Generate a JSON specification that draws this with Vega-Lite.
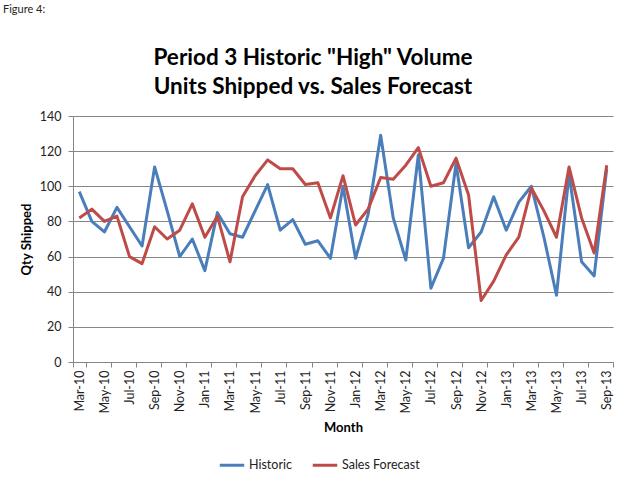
{
  "$schema": "https://vega.github.io/schema/vega-lite/v6.json",
  "padding": {"left": 3, "top": 3, "right": 18, "bottom": 18},
  "background": "white",
  "title": {"text": "Figure 4:", "anchor": "start", "frame": "group", "dx": -70, "fontSize": 11, "fontWeight": "normal", "font": "Lato", "color": "#222", "offset": 32},
  "vconcat": [
    {
      "width": 540,
      "height": 246,
      "title": {"text": ["Period 3 Historic \"High\" Volume", "Units Shipped vs. Sales Forecast"], "anchor": "middle", "frame": "group", "dx": -30, "fontSize": 22.5, "font": "Lato", "fontWeight": "bold", "lineHeight": 29, "offset": 12, "color": "#000"},
      "data": {"values": [
        {"month": "Mar-10", "Historic": 97, "Sales Forecast": 82},
        {"month": "Apr-10", "Historic": 80, "Sales Forecast": 87},
        {"month": "May-10", "Historic": 74, "Sales Forecast": 80},
        {"month": "Jun-10", "Historic": 88, "Sales Forecast": 83},
        {"month": "Jul-10", "Historic": 77, "Sales Forecast": 60},
        {"month": "Aug-10", "Historic": 66, "Sales Forecast": 56},
        {"month": "Sep-10", "Historic": 111, "Sales Forecast": 77},
        {"month": "Oct-10", "Historic": 86, "Sales Forecast": 70},
        {"month": "Nov-10", "Historic": 60, "Sales Forecast": 75},
        {"month": "Dec-10", "Historic": 70, "Sales Forecast": 90},
        {"month": "Jan-11", "Historic": 52, "Sales Forecast": 71},
        {"month": "Feb-11", "Historic": 85, "Sales Forecast": 83},
        {"month": "Mar-11", "Historic": 73, "Sales Forecast": 57},
        {"month": "Apr-11", "Historic": 71, "Sales Forecast": 94},
        {"month": "May-11", "Historic": 86, "Sales Forecast": 106},
        {"month": "Jun-11", "Historic": 101, "Sales Forecast": 115},
        {"month": "Jul-11", "Historic": 75, "Sales Forecast": 110},
        {"month": "Aug-11", "Historic": 81, "Sales Forecast": 110},
        {"month": "Sep-11", "Historic": 67, "Sales Forecast": 101},
        {"month": "Oct-11", "Historic": 69, "Sales Forecast": 102},
        {"month": "Nov-11", "Historic": 59, "Sales Forecast": 82},
        {"month": "Dec-11", "Historic": 100, "Sales Forecast": 106},
        {"month": "Jan-12", "Historic": 59, "Sales Forecast": 78},
        {"month": "Feb-12", "Historic": 84, "Sales Forecast": 87},
        {"month": "Mar-12", "Historic": 129, "Sales Forecast": 105},
        {"month": "Apr-12", "Historic": 82, "Sales Forecast": 104},
        {"month": "May-12", "Historic": 58, "Sales Forecast": 112},
        {"month": "Jun-12", "Historic": 118, "Sales Forecast": 122},
        {"month": "Jul-12", "Historic": 42, "Sales Forecast": 100},
        {"month": "Aug-12", "Historic": 59, "Sales Forecast": 102},
        {"month": "Sep-12", "Historic": 113, "Sales Forecast": 116},
        {"month": "Oct-12", "Historic": 65, "Sales Forecast": 95},
        {"month": "Nov-12", "Historic": 74, "Sales Forecast": 35},
        {"month": "Dec-12", "Historic": 94, "Sales Forecast": 46},
        {"month": "Jan-13", "Historic": 75, "Sales Forecast": 61},
        {"month": "Feb-13", "Historic": 91, "Sales Forecast": 71},
        {"month": "Mar-13", "Historic": 100, "Sales Forecast": 99},
        {"month": "Apr-13", "Historic": 71, "Sales Forecast": 86},
        {"month": "May-13", "Historic": 38, "Sales Forecast": 71},
        {"month": "Jun-13", "Historic": 107, "Sales Forecast": 111},
        {"month": "Jul-13", "Historic": 57, "Sales Forecast": 82},
        {"month": "Aug-13", "Historic": 49, "Sales Forecast": 62},
        {"month": "Sep-13", "Historic": 110, "Sales Forecast": 112}
      ]},
      "transform": [{"fold": ["Historic", "Sales Forecast"], "as": ["series", "qty"]}],
      "mark": {"type": "line", "strokeWidth": 3, "strokeJoin": "round"},
      "encoding": {
        "x": {
          "field": "month", "type": "ordinal", "sort": null, "bandPosition": 0.5,
          "scale": {"type": "band", "paddingInner": 0, "paddingOuter": 0},
          "axis": {
            "values": ["Mar-10","May-10","Jul-10","Sep-10","Nov-10","Jan-11","Mar-11","May-11","Jul-11","Sep-11","Nov-11","Jan-12","Mar-12","May-12","Jul-12","Sep-12","Nov-12","Jan-13","Mar-13","May-13","Jul-13","Sep-13"],
            "labelAngle": 270, "tickBand": "extent", "tickSize": 5, "labelPadding": 3,
            "title": "Month", "titlePadding": 8, "grid": false
          }
        },
        "y": {
          "field": "qty", "type": "quantitative",
          "scale": {"domain": [0, 140], "nice": false},
          "axis": {"values": [0, 20, 40, 60, 80, 100, 120, 140], "tickSize": 5, "labelPadding": 7, "title": "Qty Shipped", "titlePadding": 6, "grid": true}
        },
        "color": {
          "field": "series", "type": "nominal",
          "scale": {"domain": ["Historic", "Sales Forecast"], "range": ["#4A7EBB", "#BE4B48"]},
          "legend": {"orient": "none", "legendX": 145, "legendY": 335, "direction": "horizontal", "title": null, "symbolType": "stroke", "symbolSize": 600, "symbolStrokeWidth": 3, "labelFontSize": 12.5, "labelOffset": 3, "columnPadding": 14, "labelColor": "#222"}
        }
      }
    }
  ],
  "config": {
    "font": "Lato",
    "view": {"stroke": null},
    "axis": {"domainColor": "#868686", "tickColor": "#868686", "gridColor": "#868686", "gridOpacity": 1, "labelColor": "#222", "titleColor": "#000", "labelFont": "Lato", "titleFont": "Lato", "labelFontSize": 12.5, "titleFontSize": 13, "titleFontWeight": "bold"},
    "legend": {"labelFont": "Lato"}
  }
}
